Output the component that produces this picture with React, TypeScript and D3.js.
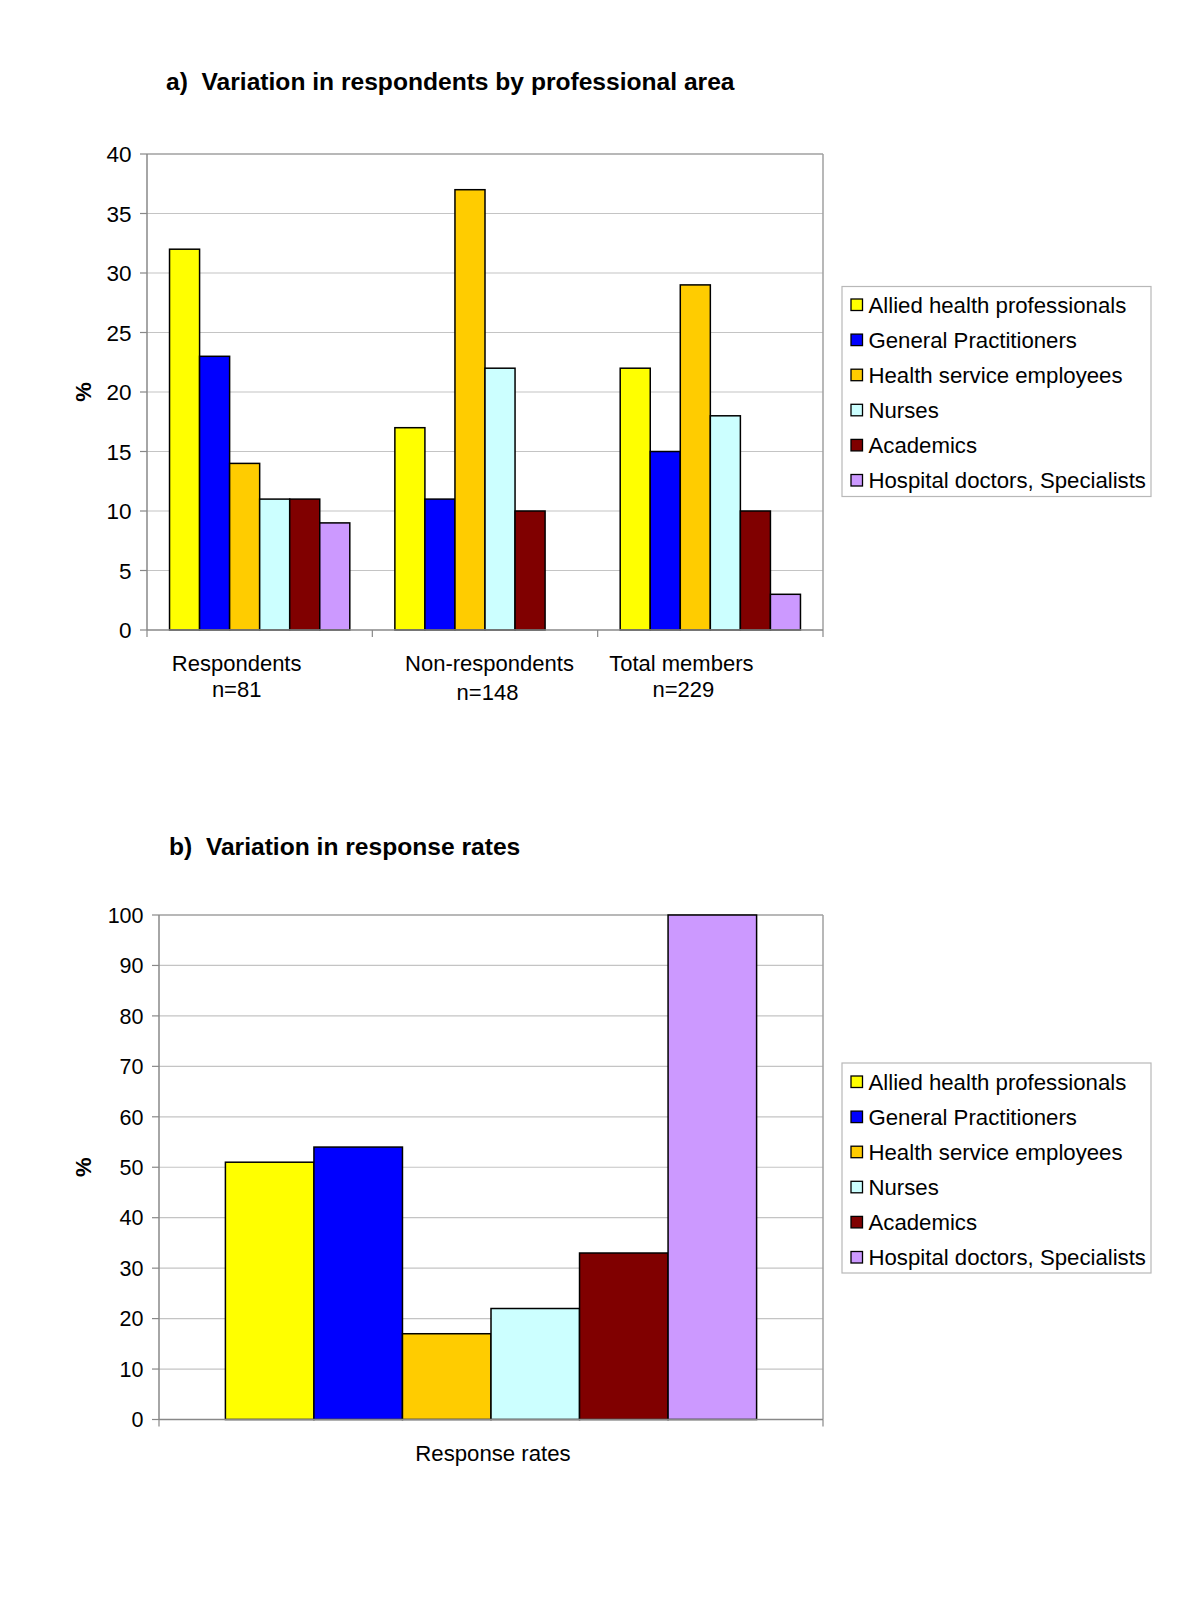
import React from "react";
import * as d3 from "d3";

const series = [
  "Allied health professionals",
  "General Practitioners",
  "Health service employees",
  "Nurses",
  "Academics",
  "Hospital doctors, Specialists",
];
const colors = ["#FFFF00", "#0000FF", "#FFCC00", "#CCFFFF", "#800000", "#CC99FF"];

const groupsA = ["Respondents", "Non-respondents", "Total members"];
const groupSubA = ["n=81", "n=148", "n=229"];
const respondents = [32, 23, 14, 11, 11, 9];
const nonRespondents = [17, 11, 37, 22, 10, 0];
const totalMembers = [22, 15, 29, 18, 10, 3];
const valuesA = [respondents, nonRespondents, totalMembers];
const ticksA = [0, 5, 10, 15, 20, 25, 30, 35, 40];

const groupsB = ["Response rates"];
const responseRates = [51, 54, 17, 22, 33, 100];
const ticksB = [0, 10, 20, 30, 40, 50, 60, 70, 80, 90, 100];

const titleA = "a)  Variation in respondents by professional area";
const titleB = "b)  Variation in response rates";

// layout-only label tweaks (dx from band center, dy)
const labelLayoutA = [
  { dx1: -23, dx2: -23, y2: 697 },
  { dx1: 4.5, dx2: 2.5, y2: 700 },
  { dx1: -29, dx2: -27, y2: 697 },
];

const FONT = "'Liberation Sans', Arial, Helvetica, sans-serif";

function Legend({ x, y, rowY0 }: { x: number; y: number; rowY0: number }) {
  return (
    <g>
      <rect x={x} y={y} width={309} height={210} fill="#fff" stroke="#b8b8b8" strokeWidth={1.2} />
      {series.map((s, i) => {
        const cy = rowY0 + i * 35.1;
        return (
          <g key={s}>
            <rect x={851} y={cy - 6} width={11.5} height={11.5} fill={colors[i]} stroke="#000" strokeWidth={1.3} />
            <text x={868.5} y={cy + 7.8} fontSize={22.2} fontFamily={FONT} fill="#000">
              {s}
            </text>
          </g>
        );
      })}
    </g>
  );
}

function ChartA() {
  const left = 147, right = 823, top = 154, bottom = 630;
  const y = d3.scaleLinear().domain([0, 40]).range([bottom, top]);
  const x0 = d3.scaleBand().domain(groupsA).range([left, right]).padding(0);
  const bw = x0.bandwidth();
  const x1 = d3.scaleBand().domain(series).range([0.1 * bw, 0.9 * bw]).padding(0);
  return (
    <g>
      <text x={166} y={90} fontSize={24.6} fontWeight="bold" fontFamily={FONT} style={{ whiteSpace: "pre" }}>
        {titleA}
      </text>
      {ticksA.map((t) => (
        <g key={t}>
          {t > 0 && t < 40 && <line x1={left} x2={right} y1={y(t)} y2={y(t)} stroke="#c4c4c4" strokeWidth={1.2} />}
          <line x1={left - 7} x2={left} y1={y(t)} y2={y(t)} stroke="#888" strokeWidth={1.2} />
          <text x={131.5} y={y(t) + 8} fontSize={22.5} textAnchor="end" fontFamily={FONT}>
            {t}
          </text>
        </g>
      ))}
      <line x1={left} x2={right} y1={top} y2={top} stroke="#a0a0a0" strokeWidth={1.5} />
      <line x1={right} x2={right} y1={top} y2={bottom} stroke="#a0a0a0" strokeWidth={1.5} />
      {groupsA.map((g, gi) =>
        valuesA[gi].map((v, si) =>
          v > 0 ? (
            <rect
              key={g + si}
              x={(x0(g) as number) + (x1(series[si]) as number)}
              y={y(v)}
              width={x1.bandwidth()}
              height={bottom - y(v)}
              fill={colors[si]}
              stroke="#000"
              strokeWidth={1.5}
            />
          ) : null
        )
      )}
      <line x1={left} x2={left} y1={top} y2={bottom} stroke="#888" strokeWidth={1.5} />
      <line x1={left} x2={right} y1={bottom} y2={bottom} stroke="#888" strokeWidth={1.5} />
      {[...groupsA.map((g) => x0(g) as number), right].map((tx, i) => (
        <line key={i} x1={tx} x2={tx} y1={bottom} y2={bottom + 7} stroke="#888" strokeWidth={1.2} />
      ))}
      {groupsA.map((g, i) => {
        const cx = (x0(g) as number) + bw / 2;
        const L = labelLayoutA[i];
        return (
          <g key={g}>
            <text x={cx + L.dx1} y={671} fontSize={22} textAnchor="middle" fontFamily={FONT}>
              {g}
            </text>
            <text x={cx + L.dx2} y={L.y2} fontSize={22} textAnchor="middle" fontFamily={FONT}>
              {groupSubA[i]}
            </text>
          </g>
        );
      })}
      <text
        transform={`translate(91,${(top + bottom) / 2}) rotate(-90)`}
        fontSize={22}
        fontWeight="bold"
        textAnchor="middle"
        fontFamily={FONT}
      >
        %
      </text>
      <Legend x={842} y={286.5} rowY0={305} />
    </g>
  );
}

function ChartB() {
  const left = 159, right = 823, top = 915, bottom = 1419.5;
  const y = d3.scaleLinear().domain([0, 100]).range([bottom, top]);
  const x0 = d3.scaleBand().domain(groupsB).range([left, right]).padding(0);
  const bw = x0.bandwidth();
  const x1 = d3.scaleBand().domain(series).range([0.1 * bw, 0.9 * bw]).padding(0);
  return (
    <g>
      <text x={169} y={855} fontSize={24.6} fontWeight="bold" fontFamily={FONT} style={{ whiteSpace: "pre" }}>
        {titleB}
      </text>
      {ticksB.map((t) => (
        <g key={t}>
          {t > 0 && t < 100 && <line x1={left} x2={right} y1={y(t)} y2={y(t)} stroke="#c4c4c4" strokeWidth={1.2} />}
          <line x1={left - 7} x2={left} y1={y(t)} y2={y(t)} stroke="#888" strokeWidth={1.2} />
          <text x={143.5} y={y(t) + 7.7} fontSize={21.5} textAnchor="end" fontFamily={FONT}>
            {t}
          </text>
        </g>
      ))}
      <line x1={left} x2={right} y1={top} y2={top} stroke="#a0a0a0" strokeWidth={1.5} />
      <line x1={right} x2={right} y1={top} y2={bottom} stroke="#a0a0a0" strokeWidth={1.5} />
      {groupsB.map((g) =>
        responseRates.map((v, si) => (
          <rect
            key={g + si}
            x={(x0(g) as number) + (x1(series[si]) as number)}
            y={y(v)}
            width={x1.bandwidth()}
            height={bottom - y(v)}
            fill={colors[si]}
            stroke="#000"
            strokeWidth={1.5}
          />
        ))
      )}
      <line x1={left} x2={left} y1={top} y2={bottom} stroke="#888" strokeWidth={1.5} />
      <line x1={left} x2={right} y1={bottom} y2={bottom} stroke="#888" strokeWidth={1.5} />
      {[left, right].map((tx, i) => (
        <line key={i} x1={tx} x2={tx} y1={bottom} y2={bottom + 7} stroke="#888" strokeWidth={1.2} />
      ))}
      {groupsB.map((g) => (
        <text
          key={g}
          x={(x0(g) as number) + bw / 2 + 2}
          y={1461}
          fontSize={22.2}
          textAnchor="middle"
          fontFamily={FONT}
        >
          {g}
        </text>
      ))}
      <text
        transform={`translate(91,${(top + bottom) / 2}) rotate(-90)`}
        fontSize={22}
        fontWeight="bold"
        textAnchor="middle"
        fontFamily={FONT}
      >
        %
      </text>
      <Legend x={842} y={1063} rowY0={1082} />
    </g>
  );
}

export default function App() {
  return (
    <svg
      width={1200}
      height={1598}
      viewBox="0 0 1200 1598"
      style={{ position: "absolute", left: 0, top: 0, background: "#fff" }}
    >
      <rect x={0} y={0} width={1200} height={1598} fill="#fff" />
      <ChartA />
      <ChartB />
    </svg>
  );
}
